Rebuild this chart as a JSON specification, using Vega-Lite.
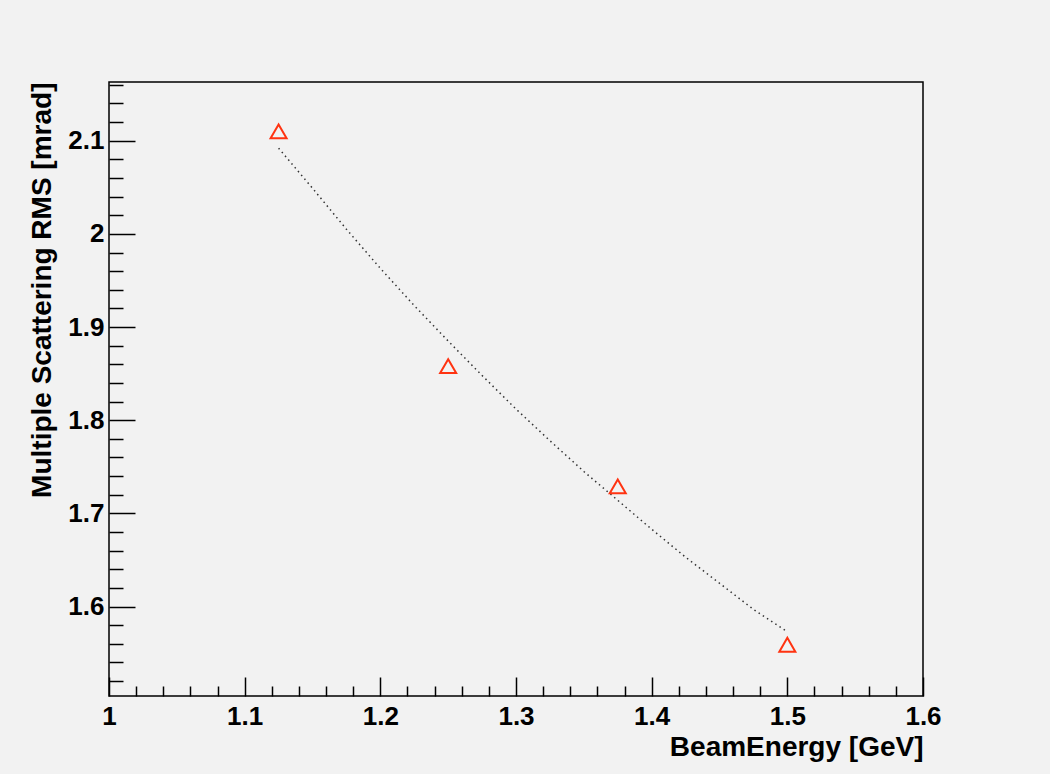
{
  "$schema": "https://vega.github.io/schema/vega-lite/v6.json",
  "width": 814,
  "height": 614,
  "autosize": "none",
  "padding": {"left": 109, "top": 82, "right": 127, "bottom": 78},
  "background": "#f2f2f2",
  "config": {
    "view": {"fill": "#f2f2f2", "stroke": "#000000", "strokeWidth": 1.5},
    "axis": {
      "domain": false,
      "grid": false,
      "tickColor": "#000000",
      "tickWidth": 1.5,
      "labelFont": "Liberation Sans",
      "labelFontWeight": "bold",
      "labelFontSize": 26,
      "labelColor": "#000000",
      "labelOverlap": false,
      "labelFlush": false,
      "labelBound": false,
      "titleFont": "Liberation Sans",
      "titleFontWeight": "bold",
      "titleFontSize": 28,
      "titleColor": "#000000",
      "titleAnchor": "end"
    }
  },
  "datasets": {
    "measured": [
      {"energy": 1.125, "rms": 2.110},
      {"energy": 1.25, "rms": 1.858},
      {"energy": 1.375, "rms": 1.729},
      {"energy": 1.5, "rms": 1.559}
    ],
    "fit": [
      {"energy": 1.125, "rms": 2.092},
      {"energy": 1.15, "rms": 2.049},
      {"energy": 1.175, "rms": 2.005},
      {"energy": 1.2, "rms": 1.963},
      {"energy": 1.225, "rms": 1.923},
      {"energy": 1.25, "rms": 1.885},
      {"energy": 1.275, "rms": 1.848},
      {"energy": 1.3, "rms": 1.812},
      {"energy": 1.325, "rms": 1.778},
      {"energy": 1.35, "rms": 1.745},
      {"energy": 1.375, "rms": 1.714},
      {"energy": 1.4, "rms": 1.683},
      {"energy": 1.425, "rms": 1.653},
      {"energy": 1.45, "rms": 1.625},
      {"energy": 1.475, "rms": 1.597},
      {"energy": 1.5, "rms": 1.573}
    ]
  },
  "encoding": {
    "x": {
      "field": "energy",
      "type": "quantitative",
      "scale": {"domain": [1, 1.6], "zero": false, "nice": false},
      "axis": {
        "title": "BeamEnergy [GeV]",
        "titlePadding": -5,
        "labelPadding": 26,
        "values": [1, 1.02, 1.04, 1.06, 1.08, 1.1, 1.12, 1.14, 1.16, 1.18, 1.2, 1.22, 1.24, 1.26, 1.28, 1.3, 1.32, 1.34, 1.36, 1.38, 1.4, 1.42, 1.44, 1.46, 1.48, 1.5, 1.52, 1.54, 1.56, 1.58, 1.6],
        "labelExpr": "abs(datum.value * 10 - round(datum.value * 10)) < 1e-6 ? format(datum.value, '.1~f') : ''",
        "tickSize": {"condition": {"test": "abs(datum.value * 10 - round(datum.value * 10)) < 1e-6", "value": -19}, "value": -10}
      }
    },
    "y": {
      "field": "rms",
      "type": "quantitative",
      "scale": {"domain": [1.504, 2.163], "zero": false, "nice": false},
      "axis": {
        "title": "Multiple Scattering RMS [mrad]",
        "titlePadding": 11,
        "labelPadding": 31,
        "values": [1.52, 1.54, 1.56, 1.58, 1.6, 1.62, 1.64, 1.66, 1.68, 1.7, 1.72, 1.74, 1.76, 1.78, 1.8, 1.82, 1.84, 1.86, 1.88, 1.9, 1.92, 1.94, 1.96, 1.98, 2, 2.02, 2.04, 2.06, 2.08, 2.1, 2.12, 2.14, 2.16],
        "labelExpr": "abs(datum.value * 10 - round(datum.value * 10)) < 1e-6 ? format(datum.value, '.1~f') : ''",
        "tickSize": {"condition": {"test": "abs(datum.value * 10 - round(datum.value * 10)) < 1e-6", "value": -26}, "value": -14}
      }
    }
  },
  "layer": [
    {
      "data": {"name": "fit"},
      "mark": {"type": "line", "color": "#333333", "strokeWidth": 1.5, "strokeDash": [1.5, 3.5], "strokeCap": "butt"}
    },
    {
      "data": {"name": "measured"},
      "mark": {"type": "point", "shape": "triangle-up", "size": 256, "filled": false, "color": "#ff3311", "strokeWidth": 2, "opacity": 1}
    }
  ]
}
